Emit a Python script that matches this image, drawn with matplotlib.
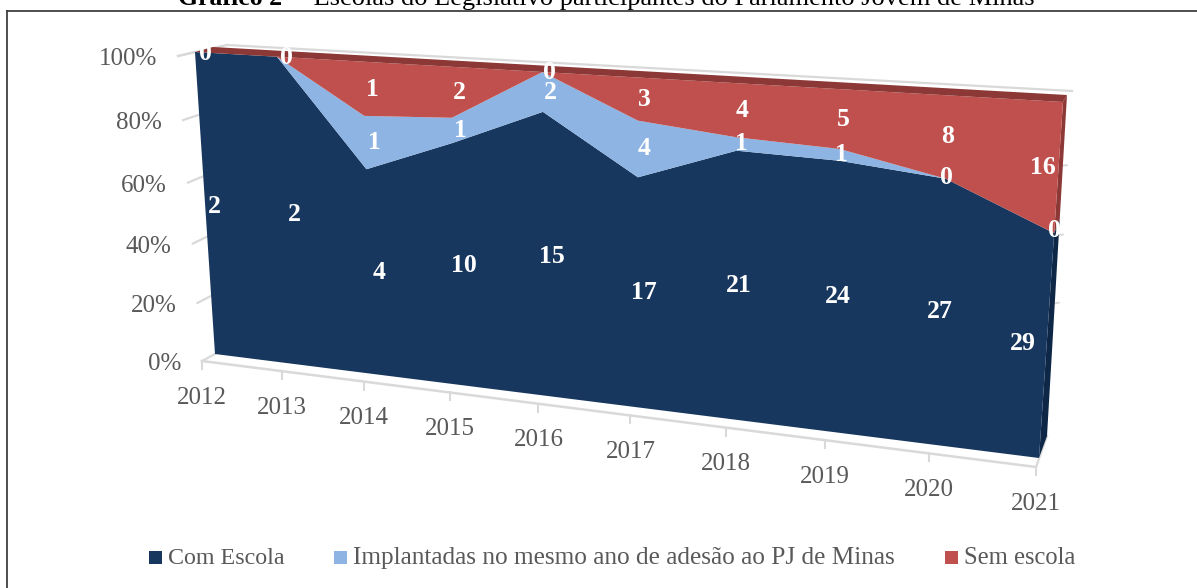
import numpy as np
import matplotlib
matplotlib.use("Agg")
import matplotlib.pyplot as plt
from matplotlib.transforms import Transform
from matplotlib.patches import Rectangle

# ---- data (counts of schools per year) ----
years = ["2012","2013","2014","2015","2016","2017","2018","2019","2020","2021"]
com_escola = [2, 2, 4, 10, 15, 17, 21, 24, 27, 29]
implantadas = [0, 0, 1, 1, 2, 4, 1, 1, 0, 0]
sem_escola = [0, 0, 1, 2, 0, 3, 4, 5, 8, 16]
y_ticks = [0, 20, 40, 60, 80, 100]
series_names = ["Com Escola", "Implantadas no mesmo ano de adesão ao PJ de Minas", "Sem escola"]

NAVY, BLUE, RED = "#17375E", "#8DB4E2", "#C0504D"
DARK_RED, DARK_NAVY = "#8C3836", "#0F2747"
GREY, TXT = "#D9D9D9", "#595959"
SERIF = "Liberation Serif"


class Plane(Transform):
    """Perspective mapping (category, percent) -> canvas pixels, fixed by four corners."""
    input_dims = output_dims = 2

    def __init__(self, bl, br, tr, tl):
        super().__init__()
        src = [(0, 0), (9, 0), (9, 100), (0, 100)]
        A, b = [], []
        for (u, v), (x, y) in zip(src, [bl, br, tr, tl]):
            A.append([u, v, 1, 0, 0, 0, -u * x, -v * x]); b.append(x)
            A.append([0, 0, 0, u, v, 1, -u * y, -v * y]); b.append(y)
        self.H = np.append(np.linalg.solve(np.array(A, float), np.array(b, float)), 1).reshape(3, 3)

    def transform_non_affine(self, values):
        p = np.column_stack([values, np.ones(len(values))]) @ self.H.T
        return p[:, :2] / p[:, 2:]


fig = plt.figure(figsize=(11.97, 5.88), dpi=100)
ax = fig.add_axes([0, 0, 1, 1])
ax.set_xlim(0, 1197)
ax.set_ylim(588, 0)
ax.axis("off")

front = Plane((215, 354), (1039, 458), (1063, 102), (195, 52))
back = Plane((228, 348), (1047, 436), (1067, 95), (213, 47))
axis_pl = Plane((202, 361), (1036, 467), (1072, 110), (178, 56))
wall = Plane((228, 348), (1047, 436), (1072, 91), (227, 45))
label_pl = Plane((223, 354), (1038, 453), (1060, 102), (205, 53))


def P(plane, x, y):
    return plane.transform(np.column_stack([x, y]))


cats = np.arange(len(years))
com, imp, sem = map(lambda a: np.array(a, float), (com_escola, implantadas, sem_escola))
tot = com + imp + sem
s1 = com / tot * 100
s2 = (com + imp) / tot * 100
s3 = np.full_like(s1, 100.0)

# frame (only top and left rules are visible) and cropped title
ax.plot([7, 1197], [11, 11], color="#404040", lw=1.3, zorder=1)
ax.plot([7, 7], [11, 588], color="#404040", lw=1.3, zorder=1)
ax.text(178, 5, "Gráfico 2", family=SERIF, weight="bold", fontsize=18.5, color="black", va="baseline", ha="left")
ax.text(287, 5, " – Escolas do Legislativo participantes do Parlamento Jovem de Minas", family=SERIF,
        fontsize=19, color="black", va="baseline", ha="left")

# walls and floor
ax.plot(*P(wall, [0, 9], [100, 100]).T, color=GREY, lw=1.6, zorder=1)
ax.plot(*np.vstack([P(axis_pl, [0], [100]), P(wall, [0], [100])]).T, color=GREY, lw=1.6, zorder=1)
for t in y_ticks[1:]:
    ax.plot(*np.vstack([P(axis_pl, [0], [t]), P(front, [0], [t])]).T, color=GREY, lw=1.6, zorder=1)
ax.plot(*P(axis_pl, [0, 9], [0, 0]).T, color=GREY, lw=1.8, zorder=1)
ax.plot(*np.vstack([P(axis_pl, [0], [0]), P(front, [0], [0])]).T, color=GREY, lw=1.6, zorder=1)
ax.plot(*np.vstack([P(axis_pl, [9], [0]), P(back, [9], [0])]).T, color=GREY, lw=1.6, zorder=1)
for t in y_ticks[2:-1]:
    a = P(back, [9], [t])[0]
    ax.plot([a[0], a[0] + 4], [a[1], a[1] - 0.5], color=GREY, lw=1.4, zorder=1)

# area front faces, top band and right side faces
for lo, hi, col in [(np.zeros_like(s1), s1, NAVY), (s1, s2, BLUE), (s2, s3, RED)]:
    ax.fill(*np.vstack([P(front, cats, hi), P(front, cats[::-1], lo[::-1])]).T, color=col, lw=0, zorder=3)
ax.fill(*np.vstack([P(front, cats, s3), P(back, cats[::-1], s3)]).T, color=DARK_RED, lw=0, zorder=4)
ax.fill(*np.vstack([P(front, [9, 9], [s2[-1], 100]), P(back, [9, 9], [100, s2[-1]])]).T, color=DARK_RED, lw=0, zorder=2)
ax.fill(*np.vstack([P(front, [9, 9], [0, s1[-1]]), P(back, [9, 9], [s1[-1], 0])]).T, color=DARK_NAVY, lw=0, zorder=2)

# y axis labels
for t in y_ticks:
    q = P(axis_pl, [0], [t])[0]
    ax.text(q[0] - 21, q[1] + 3, f"{t}%", family=SERIF, fontsize=18, color=TXT, ha="right", va="center")

# x ticks and labels
for c, yr in zip(cats, years):
    q = P(axis_pl, [c], [0])[0]
    ax.plot([q[0], q[0]], [q[1], q[1] + 8], color=GREY, lw=1.5, zorder=1)
    ax.text(q[0], q[1] + 36.5, yr, family=SERIF, fontsize=18, color=TXT, ha="center", va="center")

# data labels (the last column is nudged in, as the reference's renderer does)
lab_style = dict(family=SERIF, weight="bold", fontsize=18.5, color="white", ha="center", va="center", zorder=6)
nudge = {"com": -22, "imp": 3, "sem": -13}
for c in cats:
    last = c == cats[-1]
    q = P(label_pl, [c], [s1[c] / 2])[0]
    ax.text(q[0] + (nudge["com"] if last else 0), q[1], f"{com_escola[c]}", **lab_style)
    if c >= 2:
        q = P(label_pl, [c], [(s1[c] + s2[c]) / 2])[0]
        ax.text(q[0] + (nudge["imp"] if last else 0), q[1], f"{implantadas[c]}", **lab_style)
    q = P(label_pl, [c], [(s2[c] + s3[c]) / 2])[0]
    ax.text(q[0] + (nudge["sem"] if last else 0), q[1], f"{sem_escola[c]}", **lab_style)

# legend
for name, col, x0, fs in zip(series_names, [NAVY, BLUE, RED], [149, 334, 945], [17.3, 18.2, 17.7]):
    ax.add_patch(Rectangle((x0, 551), 13, 13, color=col, lw=0))
    ax.text(x0 + 19, 558, name, family=SERIF, fontsize=fs, color=TXT, ha="left", va="center")

fig.savefig("out.png", dpi=100)
